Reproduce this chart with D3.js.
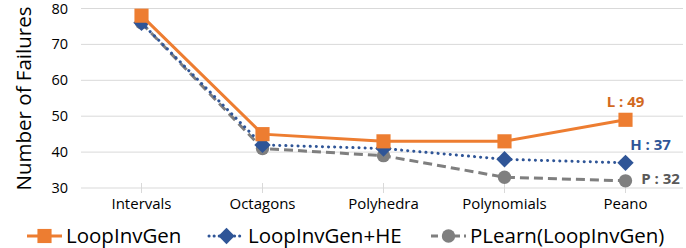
<!DOCTYPE html>
<html>
<head>
<meta charset="utf-8">
<script src="https://cdn.jsdelivr.net/npm/d3@7"></script>
<style>
  body { margin: 0; background: #fff; }
  text { font-family: "Open Sans", "DejaVu Sans", sans-serif; }
</style>
</head>
<body>
<svg id="chart"></svg>
<script>
// data
const categories = ['Intervals', 'Octagons', 'Polyhedra', 'Polynomials', 'Peano'];
const loopInvGen = [78, 45, 43, 43, 49];
const loopInvGenHE = [76, 42, 41, 38, 37];
const pLearn = [76, 41, 39, 33, 32];
const yTicks = [30, 40, 50, 60, 70, 80];
const seriesNames = ['LoopInvGen', 'LoopInvGen+HE', 'PLearn(LoopInvGen)'];
const endLabels = ['L : 49', 'H : 37', 'P : 32'];

const width = 686, height = 248;
const margin = {top: 8.5, left: 81, right: 0, bottom: 60};

const svg = d3.select('#chart')
  .attr('width', width)
  .attr('height', height);

const x = d3.scaleBand()
  .domain(categories)
  .range([margin.left, width - margin.right]);

const y = d3.scaleLinear()
  .domain([30, 80])
  .range([188, margin.top]);

const cx = c => x(c) + x.bandwidth() / 2;

// gridlines
svg.append('g')
  .selectAll('line')
  .data(yTicks)
  .join('line')
  .attr('x1', margin.left)
  .attr('x2', width - 3)
  .attr('y1', d => y(d))
  .attr('y2', d => y(d))
  .attr('stroke', '#d9d9d9')
  .attr('stroke-width', 1);

// y labels
svg.append('g')
  .selectAll('text')
  .data(yTicks)
  .join('text')
  .attr('x', 68)
  .attr('y', d => y(d) + 5)
  .attr('text-anchor', 'end')
  .attr('font-size', 14.5)
  .attr('fill', '#000')
  .text(d => d);

// x ticks
svg.append('g')
  .selectAll('line')
  .data(categories)
  .join('line')
  .attr('x1', d => cx(d))
  .attr('x2', d => cx(d))
  .attr('y1', 183)
  .attr('y2', 193)
  .attr('stroke', '#d9d9d9');

// x labels
svg.append('g')
  .selectAll('text')
  .data(categories)
  .join('text')
  .attr('x', d => cx(d))
  .attr('y', 209)
  .attr('text-anchor', 'middle')
  .attr('font-size', 15)
  .attr('fill', '#000')
  .text(d => d);

// y title
svg.append('text')
  .attr('transform', 'translate(31, 98.5) rotate(-90)')
  .attr('text-anchor', 'middle')
  .attr('font-size', 20.5)
  .attr('fill', '#000')
  .text('Number of Failures');

const series = [
  {name: seriesNames[0], values: loopInvGen, color: '#ED7D31', dash: null, cap: 'butt', marker: 'square'},
  {name: seriesNames[1], values: loopInvGenHE, color: '#2F5597', dash: '0.1 6', cap: 'round', marker: 'diamond'},
  {name: seriesNames[2], values: pLearn, color: '#7F7F7F', dash: '9 5', cap: 'butt', marker: 'circle'}
];

const symbolFor = {
  square: d3.symbol().type(d3.symbolSquare).size(200),
  diamond: d3.symbol().type(d3.symbolDiamond2).size(170),
  circle: d3.symbol().type(d3.symbolCircle).size(140)
};

const line = d3.line()
  .x((d, i) => cx(categories[i]))
  .y(d => y(d));

// draw in reverse so orange sits on top
series.slice().reverse().forEach(s => {
  svg.append('path')
    .datum(s.values)
    .attr('d', line)
    .attr('fill', 'none')
    .attr('stroke', s.color)
    .attr('stroke-width', 3)
    .attr('stroke-linecap', s.cap)
    .attr('stroke-dasharray', s.dash);

  svg.append('g')
    .selectAll('path')
    .data(s.values)
    .join('path')
    .attr('d', symbolFor[s.marker])
    .attr('transform', (d, i) => `translate(${cx(categories[i])}, ${y(d)})`)
    .attr('fill', s.color);
});

// end labels
const labelStyle = [
  {dx: 0, dy: -12.5, color: '#D2691E'},
  {dx: 25, dy: -13, color: '#2F5597'},
  {dx: 35, dy: 3.5, color: '#595959'}
];
series.forEach((s, i) => {
  const last = s.values.length - 1;
  svg.append('text')
    .attr('x', cx(categories[last]) + labelStyle[i].dx)
    .attr('y', y(s.values[last]) + labelStyle[i].dy)
    .attr('text-anchor', 'middle')
    .attr('font-size', 15)
    .attr('font-weight', 'bold')
    .attr('fill', labelStyle[i].color)
    .text(endLabels[i]);
});

// legend
const legendX = [27, 209, 431];
const legendY = 236;
series.forEach((s, i) => {
  const g = svg.append('g').attr('transform', `translate(${legendX[i]}, ${legendY})`);
  g.append('line')
    .attr('x1', 0).attr('x2', 35)
    .attr('y1', 0).attr('y2', 0)
    .attr('stroke', s.color)
    .attr('stroke-width', 3)
    .attr('stroke-linecap', s.cap)
    .attr('stroke-dasharray', s.dash === '9 5' ? '7 4' : s.dash === null ? null : '0.1 5');
  g.append('path')
    .attr('d', symbolFor[s.marker])
    .attr('transform', 'translate(17.5, 0)')
    .attr('fill', s.color);
  g.append('text')
    .attr('x', 39)
    .attr('y', 7)
    .attr('font-size', 20.5)
    .attr('fill', '#000')
    .text(s.name);
});
</script>
</body>
</html>
